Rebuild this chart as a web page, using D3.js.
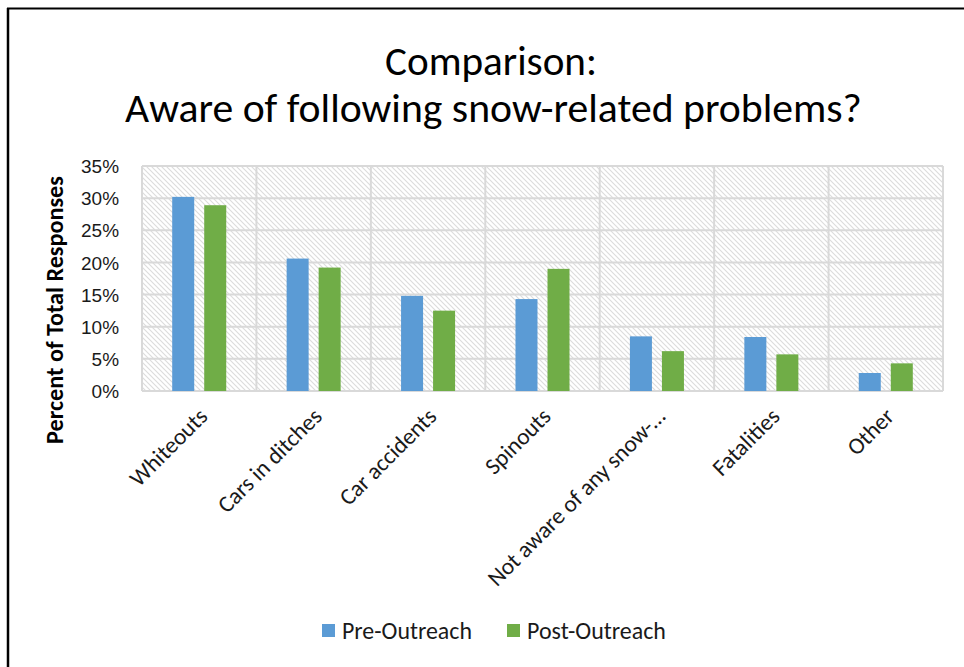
<!DOCTYPE html>
<html>
<head>
<meta charset="utf-8">
<script src="https://cdn.jsdelivr.net/npm/d3@7"></script>
<style>
  html, body { margin: 0; padding: 0; background: #fff; }
  svg { display: block; font-family: Calibri, Carlito, Lato, "Open Sans", sans-serif; }
</style>
</head>
<body>
<svg id="chart" width="964" height="667"></svg>
<script>
// ---- data ----
const categories = ["Whiteouts", "Cars in ditches", "Car accidents", "Spinouts", "Not aware of any snow-…", "Fatalities", "Other"];
const seriesNames = ["Pre-Outreach", "Post-Outreach"];
const preOutreach = [30.2, 20.6, 14.8, 14.3, 8.5, 8.4, 2.8];
const postOutreach = [28.9, 19.2, 12.5, 19.0, 6.2, 5.7, 4.3];
const yTicks = [0, 5, 10, 15, 20, 25, 30, 35];
const titleLines = ["Comparison:", "Aware of following snow-related problems?"];
const yTitle = "Percent of Total Responses";

const colors = ["#5B9BD5", "#70AD47"];
const svg = d3.select("#chart");

function fit(sel, target) {
  const w = sel.node().getComputedTextLength();
  const fs = parseFloat(sel.attr("font-size"));
  const nfs = fs * target / w;
  sel.attr("font-size", nfs.toFixed(2));
  return nfs;
}

// outer frame (left + top)
svg.append("line").attr("x1", 8).attr("x2", 8).attr("y1", 8).attr("y2", 667).attr("stroke", "#000").attr("stroke-width", 2.5);
svg.append("line").attr("x1", 7).attr("x2", 964).attr("y1", 8.5).attr("y2", 8.5).attr("stroke", "#000").attr("stroke-width", 2);

// pattern
const defs = svg.append("defs");
const pat = defs.append("pattern").attr("id", "hatch").attr("patternUnits", "userSpaceOnUse")
  .attr("width", 5).attr("height", 5);
pat.append("rect").attr("width", 5).attr("height", 5).attr("fill", "#fff");
pat.append("path").attr("d", "M-1,-1 L6,6 M-1,4 L1,6 M4,-1 L6,1").attr("stroke", "#dcdcdc").attr("stroke-width", 1.1);

const pL = 142, pR = 943, pT = 166, pB = 391;

const x0 = d3.scaleBand().domain(categories).range([pL, pR]).padding(0);
const x1 = d3.scaleBand().domain(seriesNames).range([30.2, x0.bandwidth() - 30.2]).paddingInner(0.3125).paddingOuter(0);
const y = d3.scaleLinear().domain([0, 35]).range([pB, pT]);

// plot background
svg.append("rect").attr("x", pL).attr("y", pT).attr("width", pR - pL).attr("height", pB - pT).attr("fill", "url(#hatch)");

// gridlines horizontal
svg.append("g").selectAll("line").data(yTicks).join("line")
  .attr("x1", pL).attr("x2", pR).attr("y1", d => y(d)).attr("y2", d => y(d))
  .attr("stroke", "#d9d9d9").attr("stroke-width", 2);
// vertical gridlines (category boundaries)
const bounds = categories.map(c => x0(c)).concat([pR]);
svg.append("g").selectAll("line").data(bounds).join("line")
  .attr("x1", d => d).attr("x2", d => d).attr("y1", pT).attr("y2", pB)
  .attr("stroke", "#d9d9d9").attr("stroke-width", 2);

// bars
const rows = categories.map((c, i) => ({ c, vals: [preOutreach[i], postOutreach[i]] }));
const g = svg.append("g").selectAll("g").data(rows).join("g").attr("transform", d => `translate(${x0(d.c)},0)`);
g.selectAll("rect").data(d => d.vals.map((v, j) => ({ v, s: seriesNames[j], j }))).join("rect")
  .attr("x", d => x1(d.s)).attr("width", x1.bandwidth())
  .attr("y", d => y(d.v)).attr("height", d => pB - y(d.v))
  .attr("fill", d => colors[d.j]);

// y axis labels
const yAxis = d3.axisLeft(y).tickValues(yTicks).tickFormat(d => d + "%").tickSize(0).tickPadding(0);
const ya = svg.append("g").attr("transform", `translate(119,0)`).call(yAxis);
ya.select(".domain").remove();
ya.selectAll("text").attr("font-size", 19.5).attr("fill", "#1a1a1a").attr("font-family", null).attr("dy", "0.35em");
const yfs = fit(ya.selectAll("text").filter(d => d === 35), 38);
ya.selectAll("text").attr("font-size", yfs.toFixed(2));

// x axis labels
const xa = svg.append("g");
categories.forEach(c => {
  const cx = x0(c) + x0.bandwidth() / 2;
  xa.append("text").attr("transform", `translate(${cx + 4},${412}) rotate(-45)`)
    .attr("text-anchor", "end").attr("dy", "0.35em").attr("font-size", 19.5).attr("fill", "#1a1a1a").text(c);
});
const xfs = fit(xa.selectAll("text").filter((d, i) => i === 4), 240);
xa.selectAll("text").attr("font-size", xfs.toFixed(2));

// y title
const yt = svg.append("text").attr("transform", `translate(63,${310}) rotate(-90)`)
  .attr("text-anchor", "middle").attr("font-weight", "bold").attr("font-size", 18).attr("fill", "#000").text(yTitle);
fit(yt, 268);

// title
const t1 = svg.append("text").attr("x", 491).attr("y", 75).attr("text-anchor", "middle").attr("font-size", 36).attr("fill", "#000").text(titleLines[0]);
fit(t1, 212);
const t2 = svg.append("text").attr("x", 493.5).attr("y", 122).attr("text-anchor", "middle").attr("font-size", 36).attr("fill", "#000").text(titleLines[1]);
fit(t2, 737);

// legend
const legX = [322, 507];
seriesNames.forEach((s, i) => {
  svg.append("rect").attr("x", legX[i]).attr("y", 624).attr("width", 13).attr("height", 13).attr("fill", colors[i]);
  const lt = svg.append("text").attr("x", legX[i] + 20).attr("y", 631).attr("dy", "0.35em").attr("font-size", 19).attr("fill", "#1a1a1a").text(s);
  fit(lt, i === 0 ? 130 : 139);
});
</script>
</body>
</html>
